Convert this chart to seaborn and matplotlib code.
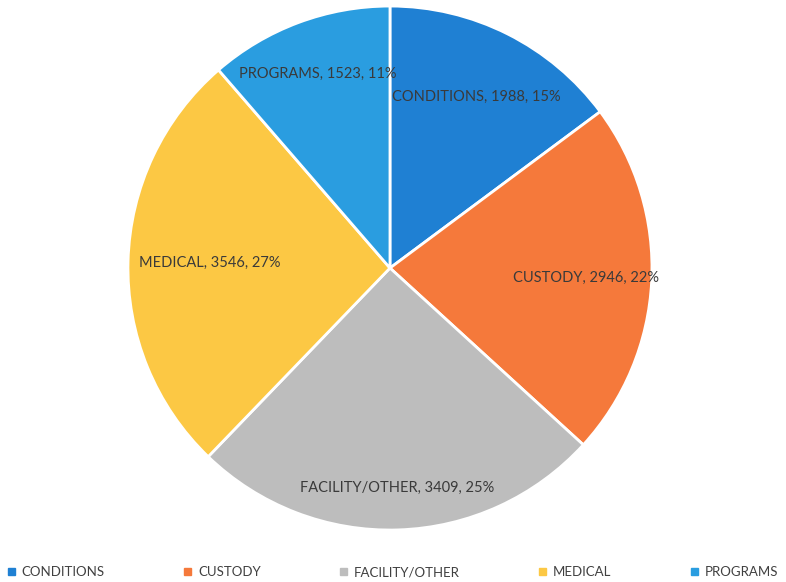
import numpy as np
import matplotlib
matplotlib.use("Agg")
import matplotlib.pyplot as plt
import seaborn as sns

# Grievance counts by category
categories = ["CONDITIONS", "CUSTODY", "FACILITY/OTHER", "MEDICAL", "PROGRAMS"]
counts = [1988, 2946, 3409, 3546, 1523]
percent_labels = ["15%", "22%", "25%", "27%", "11%"]

colors = ["#1f80d3", "#f5793b", "#bdbdbd", "#fcc844", "#2a9de0"]
label_dist = [0.73, 0.75, 0.84, 0.69, 0.79]

sns.set_theme(style="white")
plt.rcParams["font.family"] = ["Lato", "DejaVu Sans"]

fig = plt.figure(figsize=(7.86, 5.82), dpi=100)
ax = fig.add_axes([0.1628, 0.0893, 0.6667, 0.9003])

wedges, _ = ax.pie(
    counts,
    colors=colors,
    startangle=90,
    counterclock=False,
    radius=1.0,
    wedgeprops=dict(edgecolor="white", linewidth=2),
)
ax.set_xlim(-1.0, 1.0)
ax.set_ylim(-1.0, 1.0)
ax.set_aspect("equal")

for w, cat, n, pct, d in zip(wedges, categories, counts, percent_labels, label_dist):
    mid = np.deg2rad((w.theta1 + w.theta2) / 2)
    ax.text(d * np.cos(mid), d * np.sin(mid), f"{cat}, {n}, {pct}",
            ha="center", va="center", fontsize=10.5, color="#3a3a3a")

handles = [plt.Rectangle((0, 0), 1, 1, color=c) for c in colors]
fig.legend(handles, categories, loc="lower left", ncol=5, mode="expand",
           bbox_to_anchor=(0.0, -0.007, 1.0, 0.04), frameon=False,
           fontsize=9.5, handlelength=0.55, handleheight=0.55,
           handletextpad=0.5, labelcolor="#404040", borderaxespad=0.2)

fig.savefig("out.png", dpi=100, facecolor="white")
